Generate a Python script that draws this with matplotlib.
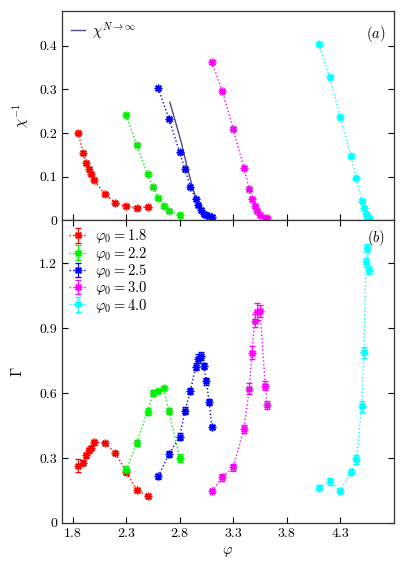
import matplotlib
matplotlib.use("Agg")
import matplotlib.pyplot as plt
import numpy as np

plt.rcParams["font.family"] = ["cmr10", "DejaVu Serif"]
plt.rcParams["mathtext.fontset"] = "cm"
plt.rcParams["axes.formatter.use_mathtext"] = True

# data
phi0_labels = ["1.8", "2.2", "2.5", "3.0", "4.0"]
colors = ["#ff0000", "#00f000", "#0000ff", "#ff00ff", "#00ffff"]

phi_red = [1.85, 1.90, 1.93, 1.95, 1.97, 2.00, 2.10, 2.20, 2.30, 2.40, 2.50]
chi_red = [0.201, 0.155, 0.131, 0.118, 0.107, 0.092, 0.060, 0.040, 0.032, 0.028, 0.031]
gam_red = [0.265, 0.279, 0.312, 0.335, 0.346, 0.372, 0.371, 0.323, 0.237, 0.151, 0.125]
gerr_red = [0.03, 0.01, 0.01, 0.01, 0.01, 0.01, 0.01, 0.01, 0.01, 0.01, 0.01]

phi_green = [2.30, 2.40, 2.50, 2.55, 2.60, 2.65, 2.70, 2.80]
chi_green = [0.241, 0.172, 0.106, 0.077, 0.052, 0.033, 0.022, 0.012]
gam_green = [0.243, 0.370, 0.515, 0.600, 0.610, 0.625, 0.517, 0.300]
gerr_green = [0.02, 0.015, 0.015, 0.015, 0.01, 0.01, 0.015, 0.02]

phi_blue = [2.60, 2.70, 2.80, 2.85, 2.90, 2.95, 2.975, 3.00, 3.025, 3.05, 3.075, 3.10]
chi_blue = [0.303, 0.233, 0.156, 0.117, 0.077, 0.048, 0.034, 0.023, 0.015, 0.012, 0.009, 0.008]
gam_blue = [0.215, 0.318, 0.399, 0.519, 0.609, 0.723, 0.759, 0.772, 0.725, 0.654, 0.560, 0.443]
gerr_blue = [0.01, 0.015, 0.015, 0.015, 0.015, 0.015, 0.02, 0.02, 0.015, 0.015, 0.015, 0.01]

phi_mag = [3.10, 3.20, 3.30, 3.40, 3.45, 3.475, 3.50, 3.52, 3.55, 3.60, 3.62]
chi_mag = [0.363, 0.296, 0.209, 0.120, 0.072, 0.048, 0.033, 0.021, 0.012, 0.005, 0.005]
gam_mag = [0.146, 0.211, 0.257, 0.435, 0.620, 0.786, 0.935, 0.977, 0.980, 0.634, 0.545]
gerr_mag = [0.01, 0.015, 0.015, 0.02, 0.025, 0.03, 0.03, 0.04, 0.03, 0.02, 0.02]

phi_cyan = [4.10, 4.20, 4.30, 4.40, 4.45, 4.50, 4.52, 4.54, 4.55, 4.57]
chi_cyan = [0.404, 0.328, 0.237, 0.147, 0.096, 0.045, 0.027, 0.015, 0.009, 0.006]
gam_cyan = [0.163, 0.192, 0.148, 0.235, 0.294, 0.540, 0.789, 1.205, 1.271, 1.169]
gerr_cyan = [0.01, 0.015, 0.01, 0.015, 0.02, 0.025, 0.025, 0.02, 0.02, 0.02]

# extrapolated N -> infinity curve (panel a)
phi_inf = [2.708, 2.755, 2.800, 2.817, 2.869, 2.910, 2.957]
chi_inf = [0.271, 0.231, 0.192, 0.177, 0.123, 0.085, 0.046]

phis = [phi_red, phi_green, phi_blue, phi_mag, phi_cyan]
chis = [chi_red, chi_green, chi_blue, chi_mag, chi_cyan]
gams = [gam_red, gam_green, gam_blue, gam_mag, gam_cyan]
gerrs = [gerr_red, gerr_green, gerr_blue, gerr_mag, gerr_cyan]

xticks = [1.8, 2.3, 2.8, 3.3, 3.8, 4.3]

fig = plt.figure(figsize=(4.15, 5.81), dpi=100)
ax1 = fig.add_axes([0.149, 0.621, 0.800, 0.360])
ax2 = fig.add_axes([0.149, 0.100, 0.800, 0.521])

mk = dict(marker=(8, 2, 0), ms=5.5, mew=1.0, ls=":", lw=1.0, capsize=2.5, elinewidth=0.7)

ax1.plot(phi_inf, chi_inf, color="#4a4a88", lw=1.0, label=r"$\chi^{N\to\infty}$")
for x, y, c in zip(phis, chis, colors):
    ax1.errorbar(x, y, yerr=0.004, color=c, **mk)

for x, y, e, c, lab in zip(phis, gams, gerrs, colors, phi0_labels):
    ax2.errorbar(x, y, yerr=e, color=c, label=r"$\varphi_0 = %s$" % lab, **mk)

for ax in (ax1, ax2):
    ax.set_xlim(1.7, 4.8)
    ax.set_xticks(xticks)
    ax.tick_params(direction="in", right=True, top=False, length=4, width=0.8, labelsize=10)
    for s in ax.spines.values():
        s.set_linewidth(0.9)
        s.set_color("#333333")

ax1.set_ylim(0, 0.48)
ax1.set_yticks([0, 0.1, 0.2, 0.3, 0.4])
ax1.set_yticklabels(["0", "0.1", "0.2", "0.3", "0.4"])
ax1.tick_params(labelbottom=False)
ax1.set_ylabel(r"$\chi^{-1}$", fontsize=10.5, labelpad=6)
ax1.text(0.975, 0.94, r"$(a)$", transform=ax1.transAxes, ha="right", va="top", fontsize=10.5)
ax1.legend(loc="upper left", frameon=False, fontsize=10.5, handlelength=1.0,
           borderaxespad=0.2, handletextpad=0.5)

ax2.set_ylim(0, 1.4)
ax2.set_yticks([0, 0.3, 0.6, 0.9, 1.2])
ax2.set_yticklabels(["0", "0.3", "0.6", "0.9", "1.2"])
ax2.set_xticklabels(["1.8", "2.3", "2.8", "3.3", "3.8", "4.3"])
ax2.tick_params(top=True)
ax2.set_ylabel(r"$\Gamma$", fontsize=10.5, labelpad=10)
ax2.set_xlabel(r"$\varphi$", fontsize=10.5)
ax2.text(0.975, 0.975, r"$(b)$", transform=ax2.transAxes, ha="right", va="top", fontsize=10.5)
ax2.legend(loc="upper left", frameon=False, fontsize=10.5, handlelength=1.2,
           labelspacing=-0.05, borderaxespad=0.1, handletextpad=0.6)

fig.savefig("out.png", dpi=100)
